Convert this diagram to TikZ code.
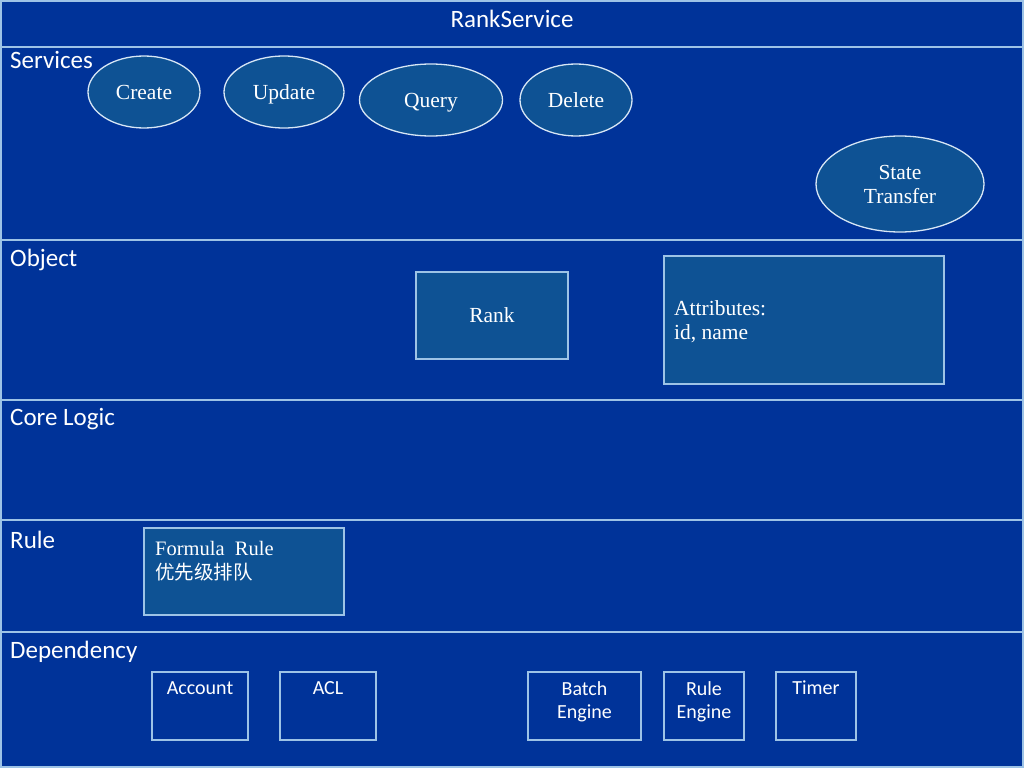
\documentclass[tikz,border=0pt]{standalone}
\usepackage{fontspec}
\setmainfont{Liberation Serif}
\newfontfamily\lab{Carlito}
\newfontfamily\cjk{Noto Sans CJK SC}
\usetikzlibrary{shapes.geometric}
\definecolor{bgblue}{RGB}{0,51,153}
\definecolor{nodeblue}{RGB}{14,82,148}
\definecolor{lineblue}{RGB}{157,195,230}
\definecolor{ovalline}{RGB}{215,230,245}
\tikzset{
  band/.style={draw=lineblue, line width=1.5pt, fill=bgblue},
  seclabel/.style={anchor=west, text=white, font=\lab\fontsize{25}{28}\selectfont, inner sep=0pt},
  oval/.style={ellipse, draw=ovalline, line width=1.3pt, fill=nodeblue, text=white, font=\fontsize{21.5}{24}\selectfont, inner sep=0pt, align=center},
  onel/.style={text height=14pt, text depth=0pt},
  objbox/.style={draw=lineblue, line width=1.2pt, fill=nodeblue, text=white, font=\fontsize{21.5}{24}\selectfont},
  depbox/.style={draw=lineblue, line width=1.2pt},
  deptext/.style={anchor=north, text=white, font=\lab\fontsize{20}{23}\selectfont, inner sep=0pt, align=center},
}
\begin{document}
\begin{tikzpicture}[x=1pt,y=-1pt]
\useasboundingbox (0,0) rectangle (1024,768);
\fill[bgblue] (0,0) rectangle (1024,768);
% bands
\draw[band] (1,1) rectangle (1023,47);
\draw[band] (1,47) rectangle (1023,240);
\draw[band] (1,240) rectangle (1023,400);
\draw[band] (1,400) rectangle (1023,520);
\draw[band] (1,520) rectangle (1023,632);
\draw[band] (1,632) rectangle (1023,767);
% labels
\node[text=white, font=\lab\fontsize{25}{28}\selectfont] (title) at (512,19) {RankService};
\node[seclabel] (lserv) at (10,60) {Services};
\node[seclabel] (lobj) at (10,260) {Object};
\node[seclabel] (lcore) at (10,419) {Core Logic};
\node[seclabel] (lrule) at (10,540) {Rule};
\node[seclabel] (ldep) at (10,652) {Dependency};
% services
\node[oval, onel, minimum width=112pt, minimum height=72pt] (create) at (144,92) {Create};
\node[oval, onel, minimum width=120pt, minimum height=72pt] (update) at (284,92) {Update};
\node[oval, onel, minimum width=143pt, minimum height=72pt] (query) at (431,100) {Query};
\node[oval, onel, minimum width=112pt, minimum height=72pt] (delete) at (576,100) {Delete};
\node[oval, minimum width=168pt, minimum height=96pt] (state) at (900,184) {State\\Transfer};
% object
\node[objbox, minimum width=152pt, minimum height=87pt] (rank) at (492,315.5) {Rank};
\node[objbox, minimum width=280pt, minimum height=128pt] (attr) at (804,320) {};
\node[anchor=north west, text=white, font=\fontsize{21.5}{24}\selectfont, align=left, inner sep=0pt] (attrtxt) at (674,300) {Attributes:\\id, name};
% rule
\node[objbox, minimum width=200pt, minimum height=87pt] (formula) at (244,571.5) {};
\node[anchor=north west, text=white, inner sep=0pt, align=left, font=\fontsize{20.5}{24}\selectfont] (formtxt) at (155,541) {Formula\ \ Rule\\{\cjk\fontsize{19.5}{24}\selectfont 优先级排队}};
% dependency
\node[depbox, minimum width=96pt, minimum height=68pt] (account) at (200,706) {};
\node[deptext] (accounttxt) at (200,681) {Account};
\node[depbox, minimum width=96pt, minimum height=68pt] (acl) at (328,706) {};
\node[deptext] (acltxt) at (328,681) {ACL};
\node[depbox, minimum width=113pt, minimum height=68pt] (batch) at (584.5,706) {};
\node[deptext] (batchtxt) at (584.5,681) {Batch\\Engine};
\node[depbox, minimum width=80pt, minimum height=68pt] (ruleeng) at (704,706) {};
\node[deptext] (ruleengtxt) at (704,681) {Rule\\Engine};
\node[depbox, minimum width=80pt, minimum height=68pt] (timer) at (816,706) {};
\node[deptext] (timertxt) at (816,681) {Timer};
\end{tikzpicture}
\end{document}
